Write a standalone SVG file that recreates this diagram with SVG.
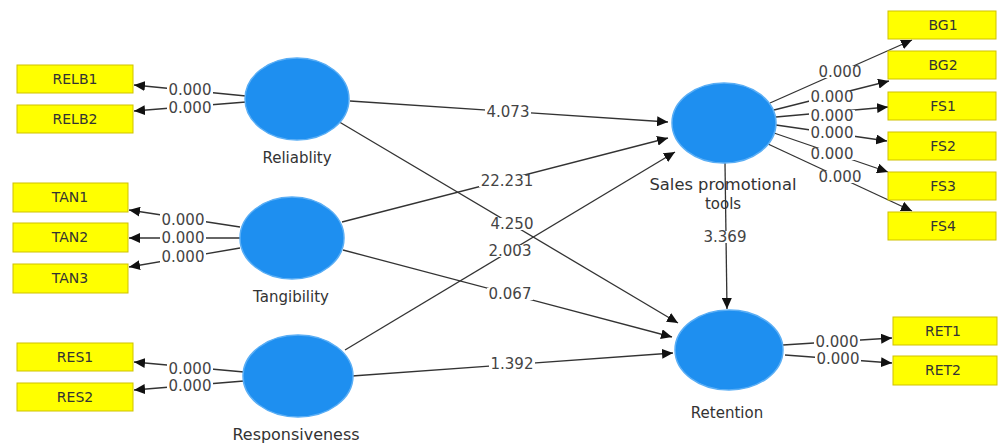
<svg xmlns="http://www.w3.org/2000/svg" width="998" height="445" viewBox="0 0 998 445">
<defs>
<marker id="ah" markerUnits="userSpaceOnUse" markerWidth="12" markerHeight="10" refX="11" refY="5" orient="auto">
<path d="M0,0 L11,5 L0,10 Z" fill="#111"/>
</marker>
<style>
.bg{fill:#ffffff}
.lv{fill:#1e8ff0;stroke:#5aaef5;stroke-width:1.5}
.ind{fill:#ffff00;stroke:#cfc200;stroke-width:1}
.t{font-family:"DejaVu Sans",sans-serif;font-size:15px;fill:#333;text-anchor:middle}
.it{font-family:"DejaVu Sans",sans-serif;font-size:14px;fill:#333;text-anchor:middle}
.c line{stroke:#333;stroke-width:1.3;marker-end:url(#ah)}
.lr{fill:#ffffff}
.lb{font-family:"DejaVu Sans",sans-serif;font-size:15px;fill:#444;text-anchor:middle}
</style>
</defs>
<rect class="bg" x="0" y="0" width="998" height="445"/>

<g id="connectors" class="c">
<line x1="246" y1="96" x2="134" y2="85"/>
<line x1="246" y1="102" x2="134" y2="111"/>
<line x1="240" y1="227" x2="129" y2="210"/>
<line x1="240" y1="238" x2="129" y2="238"/>
<line x1="240" y1="248" x2="129" y2="267"/>
<line x1="244" y1="372" x2="134" y2="362"/>
<line x1="244" y1="381" x2="134" y2="390"/>
<line x1="350" y1="101" x2="668" y2="122"/>
<line x1="342" y1="222" x2="668" y2="138"/>
<line x1="345" y1="350" x2="675" y2="152"/>
<line x1="336" y1="120" x2="678" y2="323"/>
<line x1="343" y1="250" x2="672" y2="337"/>
<line x1="352" y1="376" x2="673" y2="353"/>
<line x1="725" y1="163" x2="727" y2="309"/>
<line x1="770" y1="103" x2="912" y2="40"/>
<line x1="774" y1="110" x2="889" y2="81"/>
<line x1="776" y1="117" x2="888" y2="107"/>
<line x1="776" y1="125" x2="887" y2="141"/>
<line x1="774" y1="133" x2="888" y2="172"/>
<line x1="768" y1="144" x2="912" y2="211"/>
<line x1="783" y1="345" x2="892" y2="338"/>
<line x1="785" y1="355" x2="892" y2="363"/>
</g>

<g id="path-labels">
<rect class="lr" x="167" y="84" width="46" height="12"/><text class="lb" x="190" y="95">0.000</text>
<rect class="lr" x="167" y="102" width="46" height="12"/><text class="lb" x="190" y="113">0.000</text>
<rect class="lr" x="160" y="214" width="46" height="12"/><text class="lb" x="183" y="225">0.000</text>
<rect class="lr" x="160" y="232" width="46" height="12"/><text class="lb" x="183" y="243">0.000</text>
<rect class="lr" x="160" y="251" width="46" height="12"/><text class="lb" x="183" y="262">0.000</text>
<rect class="lr" x="167" y="363" width="46" height="12"/><text class="lb" x="190" y="374">0.000</text>
<rect class="lr" x="167" y="380" width="46" height="12"/><text class="lb" x="190" y="391">0.000</text>
<rect class="lr" x="485" y="106" width="46" height="12"/><text class="lb" x="508" y="117">4.073</text>
<rect class="lr" x="479" y="175" width="56" height="12"/><text class="lb" x="507" y="186">22.231</text>
<rect class="lr" x="489" y="218" width="46" height="12"/><text class="lb" x="512" y="229">4.250</text>
<rect class="lr" x="487" y="245" width="46" height="12"/><text class="lb" x="510" y="256">2.003</text>
<rect class="lr" x="487" y="288" width="46" height="12"/><text class="lb" x="510" y="299">0.067</text>
<rect class="lr" x="489" y="358" width="46" height="12"/><text class="lb" x="512" y="369">1.392</text>
<rect class="lr" x="702" y="231" width="46" height="12"/><text class="lb" x="725" y="242">3.369</text>
<rect class="lr" x="817" y="66" width="46" height="12"/><text class="lb" x="840" y="77">0.000</text>
<rect class="lr" x="809" y="91" width="46" height="12"/><text class="lb" x="832" y="102">0.000</text>
<rect class="lr" x="809" y="110" width="46" height="12"/><text class="lb" x="832" y="121">0.000</text>
<rect class="lr" x="809" y="127" width="46" height="12"/><text class="lb" x="832" y="138">0.000</text>
<rect class="lr" x="809" y="148" width="46" height="12"/><text class="lb" x="832" y="159">0.000</text>
<rect class="lr" x="817" y="171" width="46" height="12"/><text class="lb" x="840" y="182">0.000</text>
<rect class="lr" x="814" y="336" width="46" height="12"/><text class="lb" x="837" y="347">0.000</text>
<rect class="lr" x="815" y="353" width="46" height="12"/><text class="lb" x="838" y="364">0.000</text>
</g>

<g id="Reliablity">
<ellipse class="lv" cx="297" cy="99" rx="52" ry="41"/>
<text class="t" x="297" y="163">Reliablity</text>
</g>
<g id="Tangibility">
<ellipse class="lv" cx="292" cy="238" rx="52" ry="41"/>
<text class="t" x="291" y="302">Tangibility</text>
</g>
<g id="Responsiveness">
<ellipse class="lv" cx="298" cy="376" rx="55" ry="41"/>
<text class="t" x="296" y="440" textLength="127" lengthAdjust="spacingAndGlyphs">Responsiveness</text>
</g>
<g id="SalesPromotionalTools">
<ellipse class="lv" cx="724" cy="123" rx="52" ry="40"/>
<text class="t" x="723" y="190" textLength="147" lengthAdjust="spacingAndGlyphs">Sales promotional</text>
<text class="t" x="723" y="209">tools</text>
</g>
<g id="Retention">
<ellipse class="lv" cx="729" cy="350" rx="54" ry="40"/>
<text class="t" x="727" y="418">Retention</text>
</g>

<g id="RELB1"><rect class="ind" x="17" y="65" width="116" height="28"/><text class="it" x="75" y="84">RELB1</text></g>
<g id="RELB2"><rect class="ind" x="17" y="105" width="116" height="28"/><text class="it" x="75" y="124">RELB2</text></g>
<g id="TAN1"><rect class="ind" x="13" y="183" width="115" height="29"/><text class="it" x="70" y="202">TAN1</text></g>
<g id="TAN2"><rect class="ind" x="13" y="223" width="115" height="29"/><text class="it" x="70" y="242">TAN2</text></g>
<g id="TAN3"><rect class="ind" x="13" y="264" width="115" height="29"/><text class="it" x="70" y="283">TAN3</text></g>
<g id="RES1"><rect class="ind" x="17" y="343" width="116" height="28"/><text class="it" x="75" y="362">RES1</text></g>
<g id="RES2"><rect class="ind" x="17" y="383" width="116" height="28"/><text class="it" x="75" y="402">RES2</text></g>

<g id="BG1"><rect class="ind" x="888" y="11" width="108" height="28"/><text class="it" x="943" y="30">BG1</text></g>
<g id="BG2"><rect class="ind" x="888" y="51" width="108" height="28"/><text class="it" x="943" y="70">BG2</text></g>
<g id="FS1"><rect class="ind" x="888" y="92" width="108" height="28"/><text class="it" x="943" y="111">FS1</text></g>
<g id="FS2"><rect class="ind" x="888" y="132" width="108" height="28"/><text class="it" x="943" y="151">FS2</text></g>
<g id="FS3"><rect class="ind" x="888" y="172" width="108" height="28"/><text class="it" x="943" y="191">FS3</text></g>
<g id="FS4"><rect class="ind" x="888" y="212" width="108" height="28"/><text class="it" x="943" y="231">FS4</text></g>
<g id="RET1"><rect class="ind" x="893" y="317" width="104" height="28"/><text class="it" x="943" y="336">RET1</text></g>
<g id="RET2"><rect class="ind" x="893" y="356" width="104" height="29"/><text class="it" x="943" y="375">RET2</text></g>
</svg>
